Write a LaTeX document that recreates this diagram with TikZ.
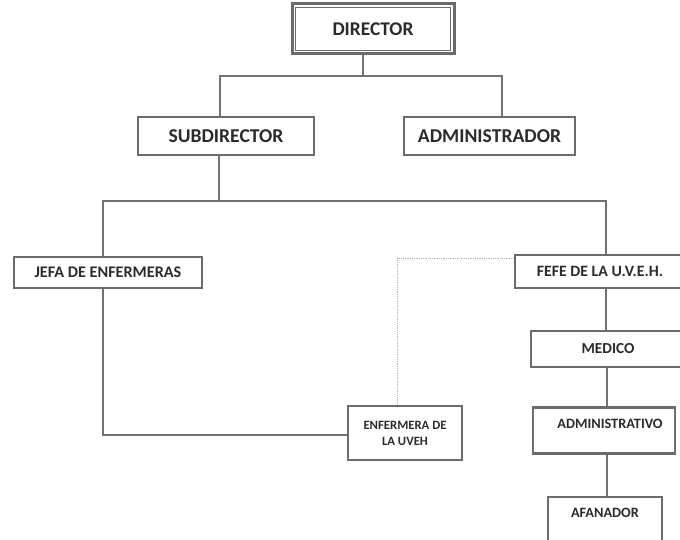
\documentclass[tikz,border=0pt]{standalone}
\usepackage{fontspec}
\setmainfont{Carlito}
\definecolor{boxgray}{HTML}{6B6B6B}
\definecolor{linegray}{HTML}{727272}
\definecolor{txt}{HTML}{2B2B2B}
\definecolor{dotgray}{HTML}{B5B5B5}
\begin{document}
\begin{tikzpicture}[x=1pt,y=-1pt,
  box/.style={draw=boxgray,line width=2.4pt,fill=white,rectangle,inner sep=0pt,
    text=txt,font=\bfseries,align=center},
  conn/.style={draw=linegray,line width=1.9pt},
  dotconn/.style={draw=dotgray,line width=1pt,dash pattern=on 1pt off 0.8pt}]
\useasboundingbox (0,0) rectangle (680,540);
% nodes
\node[box,line width=3pt,minimum width=162pt,minimum height=50pt,font=\bfseries\fontsize{19.4}{22}\selectfont] (dir) at (373,29) {DIRECTOR};
\draw[boxgray,line width=1.5pt] ([xshift=5pt,yshift=-5pt]dir.north west) rectangle ([xshift=-5pt,yshift=5pt]dir.south east);
\node[box,minimum width=176pt,minimum height=38pt,font=\bfseries\fontsize{19.6}{22}\selectfont] (sub) at (226,136) {SUBDIRECTOR};
\node[box,minimum width=171pt,minimum height=38pt,font=\bfseries\fontsize{19.6}{22}\selectfont] (adm) at (489.5,136) {ADMINISTRADOR};
\node[box,minimum width=188pt,minimum height=31pt,font=\bfseries\fontsize{16.2}{18}\selectfont] (jefa) at (108,272.5) {JEFA DE ENFERMERAS};
\node[box,minimum width=170pt,minimum height=33pt,font=\bfseries\fontsize{15.8}{18}\selectfont] (fefe) at (600,271.5) {FEFE DE LA U.V.E.H.};
\node[box,minimum width=154pt,minimum height=36pt,font=\bfseries\fontsize{15.3}{18}\selectfont] (med) at (608,349) {MEDICO};
\node[box,minimum width=142pt,text height=20.5pt,text depth=25.5pt,font=\bfseries\fontsize{14.3}{16}\selectfont] (adv) at (604,430.5) {\hspace*{12pt}ADMINISTRATIVO};
\node[box,minimum width=114pt,text height=20.5pt,text depth=27.5pt,font=\bfseries\fontsize{14.3}{16}\selectfont] (afa) at (605,521) {AFANADOR};
\node[box,minimum width=114pt,minimum height=54pt,font=\bfseries\fontsize{12.7}{16}\selectfont] (enf) at (405,433) {ENFERMERA DE\\LA UVEH};
% junction coordinates
\coordinate (d0) at (363,76);
\coordinate (dl) at (220,76);
\coordinate (dr) at (502,76);
\coordinate (s0) at (219,201);
\coordinate (sl) at (103,201);
\coordinate (sr) at (606,201);
\coordinate (jb) at (103,435);
\coordinate (v1) at (607,0);
\coordinate (dt) at (397,258);
% connectors
\draw[conn] (d0 |- dir.south) -- (d0);
\draw[conn] (dl |- sub.north) -- (dl) -- (dr) -- (dr |- adm.north);
\draw[conn] (s0 |- sub.south) -- (s0);
\draw[conn] (sl |- jefa.north) -- (sl) -- (sr) -- (sr |- fefe.north);
\draw[conn] (jb |- jefa.south) -- (jb) -- (enf.west |- jb);
\draw[conn] (sr |- fefe.south) -- (sr |- med.north);
\draw[conn] (v1 |- med.south) -- (v1 |- adv.north);
\draw[conn] (v1 |- adv.south) -- (v1 |- afa.north);
\draw[dotconn] (fefe.west |- dt) -- (dt) -- (dt |- enf.north);
\end{tikzpicture}
\end{document}
